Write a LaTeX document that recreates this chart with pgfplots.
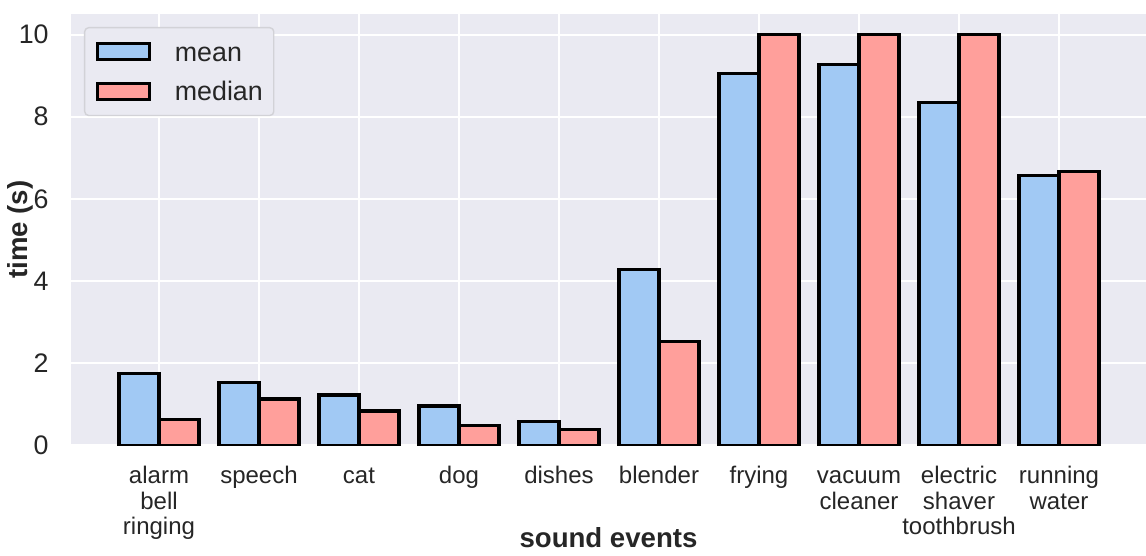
\documentclass[border=0pt]{standalone}
\usepackage{pgfplots}
\pgfplotsset{compat=1.18}
\usepackage{fontspec}
\setmainfont{Liberation Sans}
\definecolor{bg}{HTML}{EAEAF2}
\definecolor{cmean}{HTML}{A1C9F4}
\definecolor{cmed}{HTML}{FF9F9B}
\definecolor{txt}{HTML}{262626}
\definecolor{lgframe}{HTML}{D2D2D7}
\pgfplotsset{mylegend/.style={legend image code/.code={\draw[##1, line width=1.5pt, rounded corners=0pt] (0pt,-4.1pt) rectangle (26.4pt,4.1pt);}}}
\begin{document}
\begin{tikzpicture}
\begin{axis}[
  at={(0pt,0pt)}, anchor=south west,
  scale only axis, width=537.5pt, height=215.75pt,
  xmin=-0.88, xmax=9.87, ymin=0, ymax=10.5,
  axis background/.style={fill=bg},
  axis line style={draw=none},
  grid=major, major grid style={white, line width=1pt},
  major tick length=0pt,
  xtick={0,1,2,3,4,5,6,7,8,9},
  ytick={0,2,4,6,8,10},
  /pgf/number format/assume math mode=true,
  xticklabels={{\strut alarm\\bell\\ringing},{\strut speech},{\strut cat},{\strut dog},{\strut dishes},{\strut blender},{\strut frying},{\strut vacuum\\cleaner},{\strut electric\\shaver\\toothbrush},{\strut running\\water}},
  xticklabel style={align=center, font=\fontsize{12}{12.75}\selectfont, text=txt, inner sep=0pt, yshift=-10pt},
  yticklabel style={font=\fontsize{13.4}{15}\selectfont, text=txt, inner sep=0pt, xshift=-11pt},
  xlabel={\textbf{sound events}},
  ylabel={\textbf{time (s)}},
  xlabel style={at={(axis description cs:0.5,-0.2371)}, anchor=base, font=\fontsize{13.8}{16}\selectfont, text=txt},
  ylabel style={at={(axis description cs:-0.0402,0.5)}, anchor=base, font=\fontsize{13.8}{16}\selectfont, text=txt},
  legend cell align=left,
  legend style={at={(0,1)}, anchor=north west, xshift=6.5pt, yshift=-6.5pt,
    draw=lgframe, line width=0.7pt, fill=bg, rounded corners=2pt,
    inner xsep=5.5pt, inner ysep=7.2pt, row sep=10.1pt,
    font=\fontsize{13.4}{15}\selectfont, text=txt,
    nodes={inner sep=0pt, text height=9.5pt, text depth=0pt},
    /tikz/every odd column/.append style={column sep=11.7pt}},
]
\addplot[ybar, bar width=0.4, bar shift=-0.2, fill=cmean, draw=black, line width=1.6pt, mylegend]
  coordinates {(0,1.75) (1,1.53) (2,1.23) (3,0.96) (4,0.58) (5,4.29) (6,9.05) (7,9.27) (8,8.34) (9,6.57)};
\addlegendentry{mean}
\addplot[ybar, bar width=0.4, bar shift=0.2, fill=cmed, draw=black, line width=1.6pt, mylegend]
  coordinates {(0,0.63) (1,1.13) (2,0.84) (3,0.48) (4,0.38) (5,2.54) (6,10) (7,10) (8,10) (9,6.66)};
\addlegendentry{median}
\end{axis}
\pgfresetboundingbox
\path (-35.5pt,-55.25pt) rectangle (537.5pt,222.75pt);
\end{tikzpicture}
\end{document}
